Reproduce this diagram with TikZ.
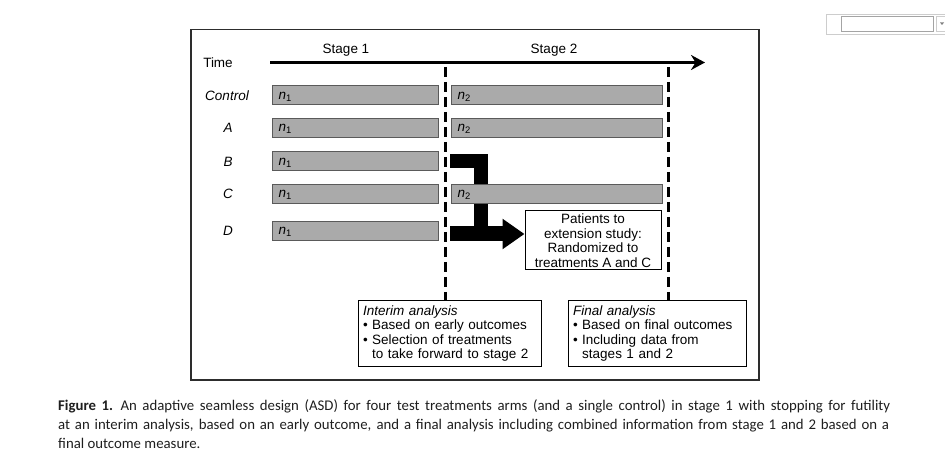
\documentclass[tikz,border=0pt]{standalone}
\usepackage{fontspec}
\setmainfont{Liberation Sans}
\newfontfamily\capfont{Carlito}
\usepackage{tikz}
\usetikzlibrary {arrows.meta,
                 positioning}
\definecolor{barfill}{RGB}{170,170,170}
\definecolor{barline}{RGB}{90,90,90}
\definecolor{frameline}{RGB}{45,45,45}
\definecolor{captext}{RGB}{30,30,30}
\definecolor{uiline}{RGB}{205,205,205}
\tikzset{
        x=1pt, y=-1pt,
        arm/.style={font=\itshape},
        bar/.style={draw=barline, fill=barfill, line width=1pt, anchor=west,
                    minimum height=19pt, inner ysep=0pt, inner xsep=6pt,
                    text depth=0pt},
        barone/.style={bar, text width=154pt},
        bartwo/.style={bar, text width=199pt},
        note/.style={draw, line width=1pt, align=left, inner xsep=5pt,
                     minimum height=65pt},
        patbox/.style={draw, line width=1pt, align=center, minimum width=136pt,
                       minimum height=59pt, inner sep=1pt},
        dashline/.style={line width=3pt, dash pattern=on 10pt off 5pt},
        timearrow/.style={line width=2.8pt, -{Stealth[length=14pt, width=15pt]}},
        bigline/.style={line width=14pt},
        bigarrow/.style={line width=15pt, -{Triangle[length=22pt, width=29pt]}},
        capline/.style={font=\capfont\fontsize{14.8}{17}\selectfont, text=captext,
                        inner sep=0pt, anchor=base west},
 }

\begin{document}
\fontsize{13.5}{14.5}\selectfont
\begin{tikzpicture}
    \useasboundingbox (0,0) rectangle (945,470);
    % frame
    \draw[frameline, line width=1.5pt] (191,29.5) rectangle (759,380);

    \node (time) at (218,63) {Time};
    \node (s1) at (346,50) {Stage 1};
    \node (s2) at (554,50) {Stage 2};
    \coordinate (t0) at (270,62.5);
    \coordinate (t1) at (705,62.5);
    \draw[timearrow] (t0) -- (t1);

    \node[arm] (lctl) at (227,95.5) {Control};
    \node[arm] (la) at (228,128) {A};
    \node[arm] (lb) at (228,161.5) {B};
    \node[arm] (lc) at (228,194) {C};
    \node[arm] (ld) at (228,231) {D};

    \node[patbox] (pat) at (593,240.5) {Patients to\\extension study:\\Randomized to\\treatments A and C};

    \coordinate (bout) at (450,161.5);
    \coordinate (dout) at (450,234);
    \coordinate (jn) at (481,234);
    \draw[bigline] (bout) -| (jn);
    \draw[bigarrow] (dout) -- (dout -| pat.west);

    \node[barone] (ctl1) at (272,95.5) {\textit{n}\textsubscript{1}};
    \node[bartwo] (ctl2) at (451,95.5) {\textit{n}\textsubscript{2}};
    \node[barone] (a1) at (272,128) {\textit{n}\textsubscript{1}};
    \node[bartwo] (a2) at (451,128) {\textit{n}\textsubscript{2}};
    \node[barone] (b1) at (272,161.5) {\textit{n}\textsubscript{1}};
    \node[barone] (c1) at (272,194) {\textit{n}\textsubscript{1}};
    \node[bartwo] (c2) at (451,194) {\textit{n}\textsubscript{2}};
    \node[barone] (d1) at (272,231) {\textit{n}\textsubscript{1}};

    \node[note, text width=173pt] (interim) at (449.5,333.5)
         {\textit{Interim analysis}\\
          • Based on early outcomes\\
          • Selection of treatments\\
          \phantom{• }to take forward to stage 2};
    \node[note, text width=168pt] (final) at (657,333.5)
         {\textit{Final analysis}\\
          • Based on final outcomes\\
          • Including data from\\
          \phantom{• }stages 1 and 2};

    \coordinate (imtop) at (445,67);
    \coordinate (fntop) at (668,67);
    \draw[dashline] (imtop) -- (imtop |- interim.north);
    \draw[dashline] (fntop) -- (fntop |- final.north);

    % caption
    \node[capline] (cap1) at (58,410) {\makebox[832pt][s]{\textbf{Figure 1.}\enspace An adaptive seamless design (ASD) for four test treatments arms (and a single control) in stage 1 with stopping for futility}};
    \node[capline] (cap2) at (58,429) {\makebox[831pt][s]{at an interim analysis, based on an early outcome, and a final analysis including combined information from stage 1 and 2 based on a}};
    \node[capline] (cap3) at (58,448) {final outcome measure.};

    % widget
    \draw[uiline] (826,14) rectangle (946,34);
    \draw[uiline!80!black] (841,16.5) rectangle (933,31);
    \draw[uiline] (936,16.5) rectangle (946,31);
    \fill[gray] (940,22.5) -- (944,22.5) -- (942,25) -- cycle;
\end{tikzpicture}
\end{document}
